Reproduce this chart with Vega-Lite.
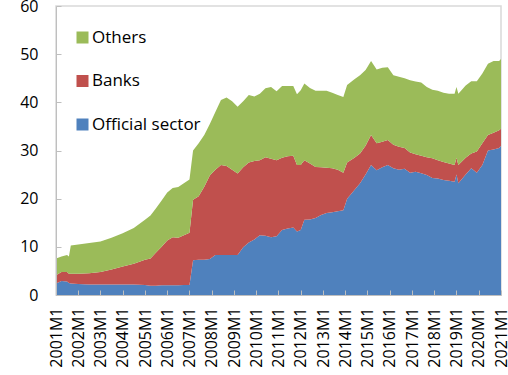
{
  "$schema": "https://vega.github.io/schema/vega-lite/v6.json",
  "autosize": "none",
  "width": 445,
  "height": 289,
  "padding": {"left": 56, "top": 6, "right": 7, "bottom": 80},
  "background": "white",
  "config": {
    "font": "Open Sans",
    "view": {"stroke": "#d9d9d9", "strokeWidth": 1.5},
    "axis": {"grid": false, "domainColor": "#bfbfbf", "tickColor": "#bfbfbf", "labelColor": "#000000", "labelFontSize": 16, "labelFont": "Open Sans"}
  },
  "datasets": {
    "ranks": [
      {"series": "Official sector", "rank": 1},
      {"series": "Banks", "rank": 2},
      {"series": "Others", "rank": 3}
    ]
  },
  "data": {
    "values": [
      {"date": "2001-01-01", "Official sector": 2.4, "Banks": 1.7, "Others": 3.5},
      {"date": "2001-04-01", "Official sector": 2.9, "Banks": 1.9, "Others": 3.2},
      {"date": "2001-07-01", "Official sector": 2.8, "Banks": 2.0, "Others": 3.5},
      {"date": "2001-08-01", "Official sector": 2.5, "Banks": 1.9, "Others": 3.6},
      {"date": "2001-09-01", "Official sector": 2.4, "Banks": 2.0, "Others": 5.9},
      {"date": "2002-01-01", "Official sector": 2.3, "Banks": 2.1, "Others": 6.1},
      {"date": "2002-07-01", "Official sector": 2.2, "Banks": 2.3, "Others": 6.3},
      {"date": "2003-01-01", "Official sector": 2.2, "Banks": 2.6, "Others": 6.3},
      {"date": "2003-07-01", "Official sector": 2.2, "Banks": 3.1, "Others": 6.6},
      {"date": "2004-01-01", "Official sector": 2.2, "Banks": 3.7, "Others": 6.9},
      {"date": "2004-07-01", "Official sector": 2.2, "Banks": 4.3, "Others": 7.4},
      {"date": "2005-01-01", "Official sector": 2.1, "Banks": 5.2, "Others": 8.3},
      {"date": "2005-04-01", "Official sector": 1.9, "Banks": 5.7, "Others": 8.9},
      {"date": "2005-07-01", "Official sector": 1.9, "Banks": 6.9, "Others": 9.2},
      {"date": "2005-10-01", "Official sector": 2.0, "Banks": 8.0, "Others": 9.6},
      {"date": "2006-01-01", "Official sector": 2.0, "Banks": 9.3, "Others": 10.0},
      {"date": "2006-04-01", "Official sector": 2.0, "Banks": 10.0, "Others": 10.2},
      {"date": "2006-07-01", "Official sector": 2.0, "Banks": 9.9, "Others": 10.5},
      {"date": "2006-10-01", "Official sector": 2.1, "Banks": 10.3, "Others": 10.8},
      {"date": "2007-01-01", "Official sector": 2.1, "Banks": 10.8, "Others": 11.1},
      {"date": "2007-03-01", "Official sector": 7.2, "Banks": 12.6, "Others": 10.2},
      {"date": "2007-06-01", "Official sector": 7.3, "Banks": 13.2, "Others": 11.0},
      {"date": "2007-09-01", "Official sector": 7.3, "Banks": 15.2, "Others": 10.7},
      {"date": "2007-12-01", "Official sector": 7.5, "Banks": 17.3, "Others": 10.7},
      {"date": "2008-03-01", "Official sector": 8.3, "Banks": 17.7, "Others": 12.0},
      {"date": "2008-06-01", "Official sector": 8.3, "Banks": 18.7, "Others": 13.5},
      {"date": "2008-09-01", "Official sector": 8.3, "Banks": 18.5, "Others": 14.2},
      {"date": "2008-12-01", "Official sector": 8.3, "Banks": 17.7, "Others": 14.2},
      {"date": "2009-03-01", "Official sector": 8.3, "Banks": 16.9, "Others": 13.9},
      {"date": "2009-06-01", "Official sector": 9.9, "Banks": 16.6, "Others": 13.7},
      {"date": "2009-09-01", "Official sector": 10.9, "Banks": 16.6, "Others": 14.0},
      {"date": "2009-12-01", "Official sector": 11.5, "Banks": 16.3, "Others": 13.4},
      {"date": "2010-03-01", "Official sector": 12.4, "Banks": 15.6, "Others": 13.8},
      {"date": "2010-06-01", "Official sector": 12.3, "Banks": 16.3, "Others": 14.3},
      {"date": "2010-09-01", "Official sector": 12.0, "Banks": 16.3, "Others": 14.9},
      {"date": "2010-12-01", "Official sector": 12.2, "Banks": 15.8, "Others": 14.3},
      {"date": "2011-03-01", "Official sector": 13.5, "Banks": 15.0, "Others": 14.9},
      {"date": "2011-06-01", "Official sector": 13.8, "Banks": 15.0, "Others": 14.6},
      {"date": "2011-09-01", "Official sector": 14.0, "Banks": 14.9, "Others": 14.5},
      {"date": "2011-11-01", "Official sector": 13.2, "Banks": 13.8, "Others": 14.7},
      {"date": "2012-01-01", "Official sector": 13.5, "Banks": 13.5, "Others": 15.5},
      {"date": "2012-03-01", "Official sector": 15.6, "Banks": 12.4, "Others": 15.9},
      {"date": "2012-06-01", "Official sector": 15.7, "Banks": 11.6, "Others": 15.7},
      {"date": "2012-09-01", "Official sector": 16.0, "Banks": 10.6, "Others": 15.8},
      {"date": "2012-12-01", "Official sector": 16.6, "Banks": 9.9, "Others": 15.9},
      {"date": "2013-03-01", "Official sector": 17.0, "Banks": 9.4, "Others": 16.0},
      {"date": "2013-06-01", "Official sector": 17.2, "Banks": 9.1, "Others": 15.7},
      {"date": "2013-09-01", "Official sector": 17.4, "Banks": 8.6, "Others": 15.5},
      {"date": "2013-12-01", "Official sector": 17.6, "Banks": 7.8, "Others": 15.7},
      {"date": "2014-02-01", "Official sector": 20.0, "Banks": 7.5, "Others": 16.1},
      {"date": "2014-06-01", "Official sector": 21.8, "Banks": 6.7, "Others": 16.3},
      {"date": "2014-09-01", "Official sector": 23.2, "Banks": 6.2, "Others": 16.2},
      {"date": "2014-12-01", "Official sector": 25.0, "Banks": 6.0, "Others": 15.7},
      {"date": "2015-03-01", "Official sector": 27.0, "Banks": 6.2, "Others": 15.4},
      {"date": "2015-06-01", "Official sector": 25.9, "Banks": 5.6, "Others": 15.3},
      {"date": "2015-09-01", "Official sector": 26.5, "Banks": 5.3, "Others": 15.4},
      {"date": "2015-12-01", "Official sector": 27.0, "Banks": 5.2, "Others": 15.1},
      {"date": "2016-03-01", "Official sector": 26.3, "Banks": 4.9, "Others": 14.4},
      {"date": "2016-06-01", "Official sector": 26.0, "Banks": 4.8, "Others": 14.5},
      {"date": "2016-09-01", "Official sector": 26.2, "Banks": 4.3, "Others": 14.5},
      {"date": "2016-12-01", "Official sector": 25.4, "Banks": 4.2, "Others": 15.0},
      {"date": "2017-03-01", "Official sector": 25.6, "Banks": 3.6, "Others": 15.1},
      {"date": "2017-06-01", "Official sector": 25.3, "Banks": 3.6, "Others": 15.2},
      {"date": "2017-09-01", "Official sector": 24.9, "Banks": 3.7, "Others": 14.6},
      {"date": "2017-12-01", "Official sector": 24.3, "Banks": 4.1, "Others": 14.2},
      {"date": "2018-03-01", "Official sector": 24.2, "Banks": 3.8, "Others": 14.4},
      {"date": "2018-06-01", "Official sector": 23.9, "Banks": 3.7, "Others": 14.4},
      {"date": "2018-09-01", "Official sector": 23.7, "Banks": 3.6, "Others": 14.5},
      {"date": "2018-12-01", "Official sector": 23.5, "Banks": 3.5, "Others": 14.8},
      {"date": "2019-01-01", "Official sector": 25.0, "Banks": 3.5, "Others": 14.7},
      {"date": "2019-02-01", "Official sector": 23.2, "Banks": 3.8, "Others": 14.8},
      {"date": "2019-06-01", "Official sector": 25.0, "Banks": 3.5, "Others": 15.0},
      {"date": "2019-09-01", "Official sector": 26.3, "Banks": 3.1, "Others": 15.0},
      {"date": "2019-12-01", "Official sector": 25.4, "Banks": 4.4, "Others": 14.6},
      {"date": "2020-03-01", "Official sector": 27.0, "Banks": 4.5, "Others": 14.5},
      {"date": "2020-06-01", "Official sector": 30.0, "Banks": 3.2, "Others": 14.8},
      {"date": "2020-09-01", "Official sector": 30.2, "Banks": 3.5, "Others": 14.9},
      {"date": "2020-12-01", "Official sector": 30.5, "Banks": 3.7, "Others": 14.4},
      {"date": "2021-01-01", "Official sector": 31.0, "Banks": 3.5, "Others": 14.5}
    ]
  },
  "transform": [
    {"fold": ["Official sector", "Banks", "Others"], "as": ["series", "value"]},
    {"lookup": "series", "from": {"data": {"name": "ranks"}, "key": "series", "fields": ["rank"]}}
  ],
  "mark": {"type": "area", "interpolate": "linear"},
  "encoding": {
    "x": {
      "field": "date",
      "type": "temporal",
      "scale": {"domain": ["2001-01-01", "2021-01-01"], "nice": false},
      "axis": {
        "title": null,
        "tickCount": {"interval": "year", "step": 1},
        "labelExpr": "timeFormat(datum.value, '%Y') + 'M1'",
        "labelAngle": -90,
        "labelPadding": 17,
        "tickSize": -5,
        "labelFlush": false,
        "labelOverlap": false,
        "zindex": 1
      }
    },
    "y": {
      "field": "value",
      "type": "quantitative",
      "stack": "zero",
      "scale": {"domain": [0, 60], "nice": false},
      "axis": {
        "title": null,
        "values": [0, 10, 20, 30, 40, 50, 60],
        "tickSize": -5,
        "labelPadding": 23,
        "zindex": 1
      }
    },
    "color": {
      "field": "series",
      "type": "nominal",
      "scale": {
        "domain": ["Others", "Banks", "Official sector"],
        "range": ["#9bbb59", "#c0504d", "#4f81bd"]
      },
      "legend": {
        "title": null,
        "orient": "none",
        "legendX": 18,
        "legendY": 23,
        "symbolType": "square",
        "symbolSize": 144,
        "symbolStrokeWidth": 0,
        "symbolOpacity": 1,
        "labelFontSize": 17,
        "labelFont": "Open Sans",
        "labelColor": "#000000",
        "rowPadding": 25.5,
        "labelOffset": 1
      }
    },
    "order": {"field": "rank", "type": "quantitative", "sort": "ascending"}
  }
}
